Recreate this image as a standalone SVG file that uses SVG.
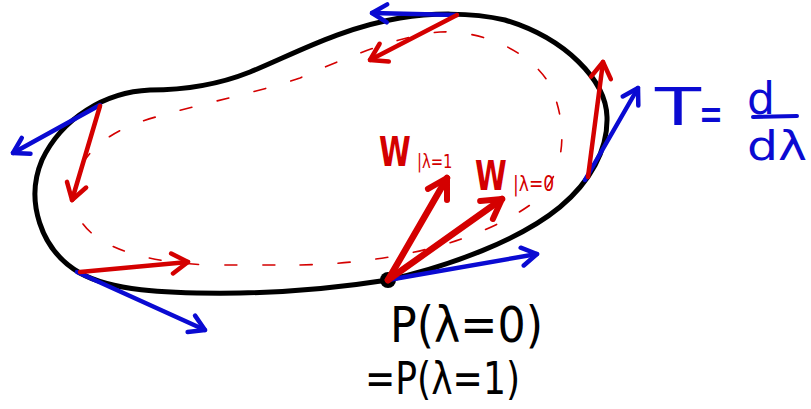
<svg xmlns="http://www.w3.org/2000/svg" width="811" height="409" viewBox="0 0 811 409">
<style>
.curve{fill:none;stroke:#000;stroke-width:5;stroke-linecap:round;stroke-linejoin:round}
.dash{fill:none;stroke:#d40000;stroke-width:1.6;stroke-dasharray:12 26;stroke-linecap:round}
.blue{fill:none;stroke:#0a0ad2;stroke-width:4.5;stroke-linecap:round}
.red{fill:none;stroke:#d40000;stroke-width:4.5;stroke-linecap:round}
.redw{fill:none;stroke:#d40000;stroke-width:6.5;stroke-linecap:round}
.t{font-family:"DejaVu Sans","Liberation Sans",sans-serif}
</style>
<defs>
<marker id="hb" markerUnits="userSpaceOnUse" markerWidth="40" markerHeight="40" refX="0" refY="0" orient="auto" overflow="visible" viewBox="-20 -20 40 40">
<path d="M -15 -9 L 0 0 L -15 9" fill="none" stroke="#0a0ad2" stroke-width="4.5" stroke-linecap="round" stroke-linejoin="round"/>
</marker>
<marker id="hr" markerUnits="userSpaceOnUse" markerWidth="40" markerHeight="40" refX="0" refY="0" orient="auto" overflow="visible" viewBox="-20 -20 40 40">
<path d="M -16 -10 L 0 0 L -16 10" fill="none" stroke="#d40000" stroke-width="4.5" stroke-linecap="round" stroke-linejoin="round"/>
</marker>
<marker id="hw" markerUnits="userSpaceOnUse" markerWidth="40" markerHeight="40" refX="0" refY="0" orient="auto" overflow="visible" viewBox="-20 -20 40 40">
<path d="M -19 -11 L 0 0 L -19 11" fill="none" stroke="#d40000" stroke-width="6" stroke-linecap="round" stroke-linejoin="round"/>
</marker>
</defs>
<rect width="811" height="409" fill="#fff"/>
<g id="loop">
<path class="curve" d="M 388 280 C 450 266, 520 240, 560 207 C 590 182, 608 150, 607 117 C 606 80, 565 38, 505 20 C 470 12, 430 13, 400 18 C 340 28, 292 55, 250 72 C 220 84, 190 90, 150 90 C 105 92, 62 118, 42 160 C 25 200, 40 250, 80 273 C 110 290, 160 294, 240 293 C 300 292, 350 286, 388 280 Z"/>
<circle cx="388" cy="280" r="8" fill="#000"/>
</g>
<g id="transported">
<path class="dash" d="M 300 265 C 400 263, 480 240, 530 205 C 570 175, 567 120, 550 85 C 530 50, 480 30, 440 32 C 400 35, 340 60, 300 78 C 250 95, 180 108, 140 122 C 90 140, 70 170, 75 205 C 80 240, 130 262, 210 265 Z"/>
</g>
<g id="connectors">
<path class="blue" d="M 457 15 L 372 13" marker-end="url(#hb)"/>
<path class="blue" d="M 100 105 L 13 153" marker-end="url(#hb)"/>
<path class="blue" d="M 77 272 L 205 330" marker-end="url(#hb)"/>
<path class="blue" d="M 388 280 L 537 254" marker-end="url(#hb)"/>
<path class="blue" d="M 585 180 L 638 88" marker-end="url(#hb)"/>
<path class="red" d="M 457 15 L 370 60" marker-end="url(#hr)"/>
<path class="red" d="M 100 106 L 72 200" marker-end="url(#hr)"/>
<path class="red" d="M 80 272 L 188 262" marker-end="url(#hr)"/>
<path class="red" d="M 588 177 L 603 62" marker-end="url(#hr)"/>
<path class="redw" d="M 388 280 L 447 178" marker-end="url(#hw)"/>
<path class="redw" d="M 388 280 L 502 199" marker-end="url(#hw)"/>
</g>
<g id="label-T" class="t" fill="#0a0ad2">
<text x="655" y="125" font-size="52" textLength="46" lengthAdjust="spacingAndGlyphs">T</text>
<text x="699" y="131" font-size="50" textLength="24" lengthAdjust="spacingAndGlyphs">=</text>
<text x="747" y="114" font-size="44" textLength="28" lengthAdjust="spacingAndGlyphs">d</text>
<line x1="753" y1="117" x2="797" y2="116" stroke="#0a0ad2" stroke-width="4" stroke-linecap="round"/>
<text x="747" y="160" font-size="40" textLength="60" lengthAdjust="spacingAndGlyphs">dλ</text>
</g>
<g id="label-W1" class="t" fill="#d40000">
<text transform="translate(379 166) scale(0.72 1)" font-size="40" font-weight="bold">W</text>
<text transform="translate(417 168) scale(0.74 1)" font-size="20">|λ=1</text>
</g>
<g id="label-W0" class="t" fill="#d40000">
<text transform="translate(475 190) scale(0.72 1)" font-size="40" font-weight="bold">W</text>
<text transform="translate(513 191) scale(0.78 1)" font-size="22">|λ=0</text>
</g>
<g id="label-P" class="t" fill="#000">
<text x="390" y="342" font-size="50" textLength="153" lengthAdjust="spacingAndGlyphs">P(λ=0)</text>
<text x="365" y="394" font-size="44" textLength="155" lengthAdjust="spacingAndGlyphs">=P(λ=1)</text>
</g>
</svg>
